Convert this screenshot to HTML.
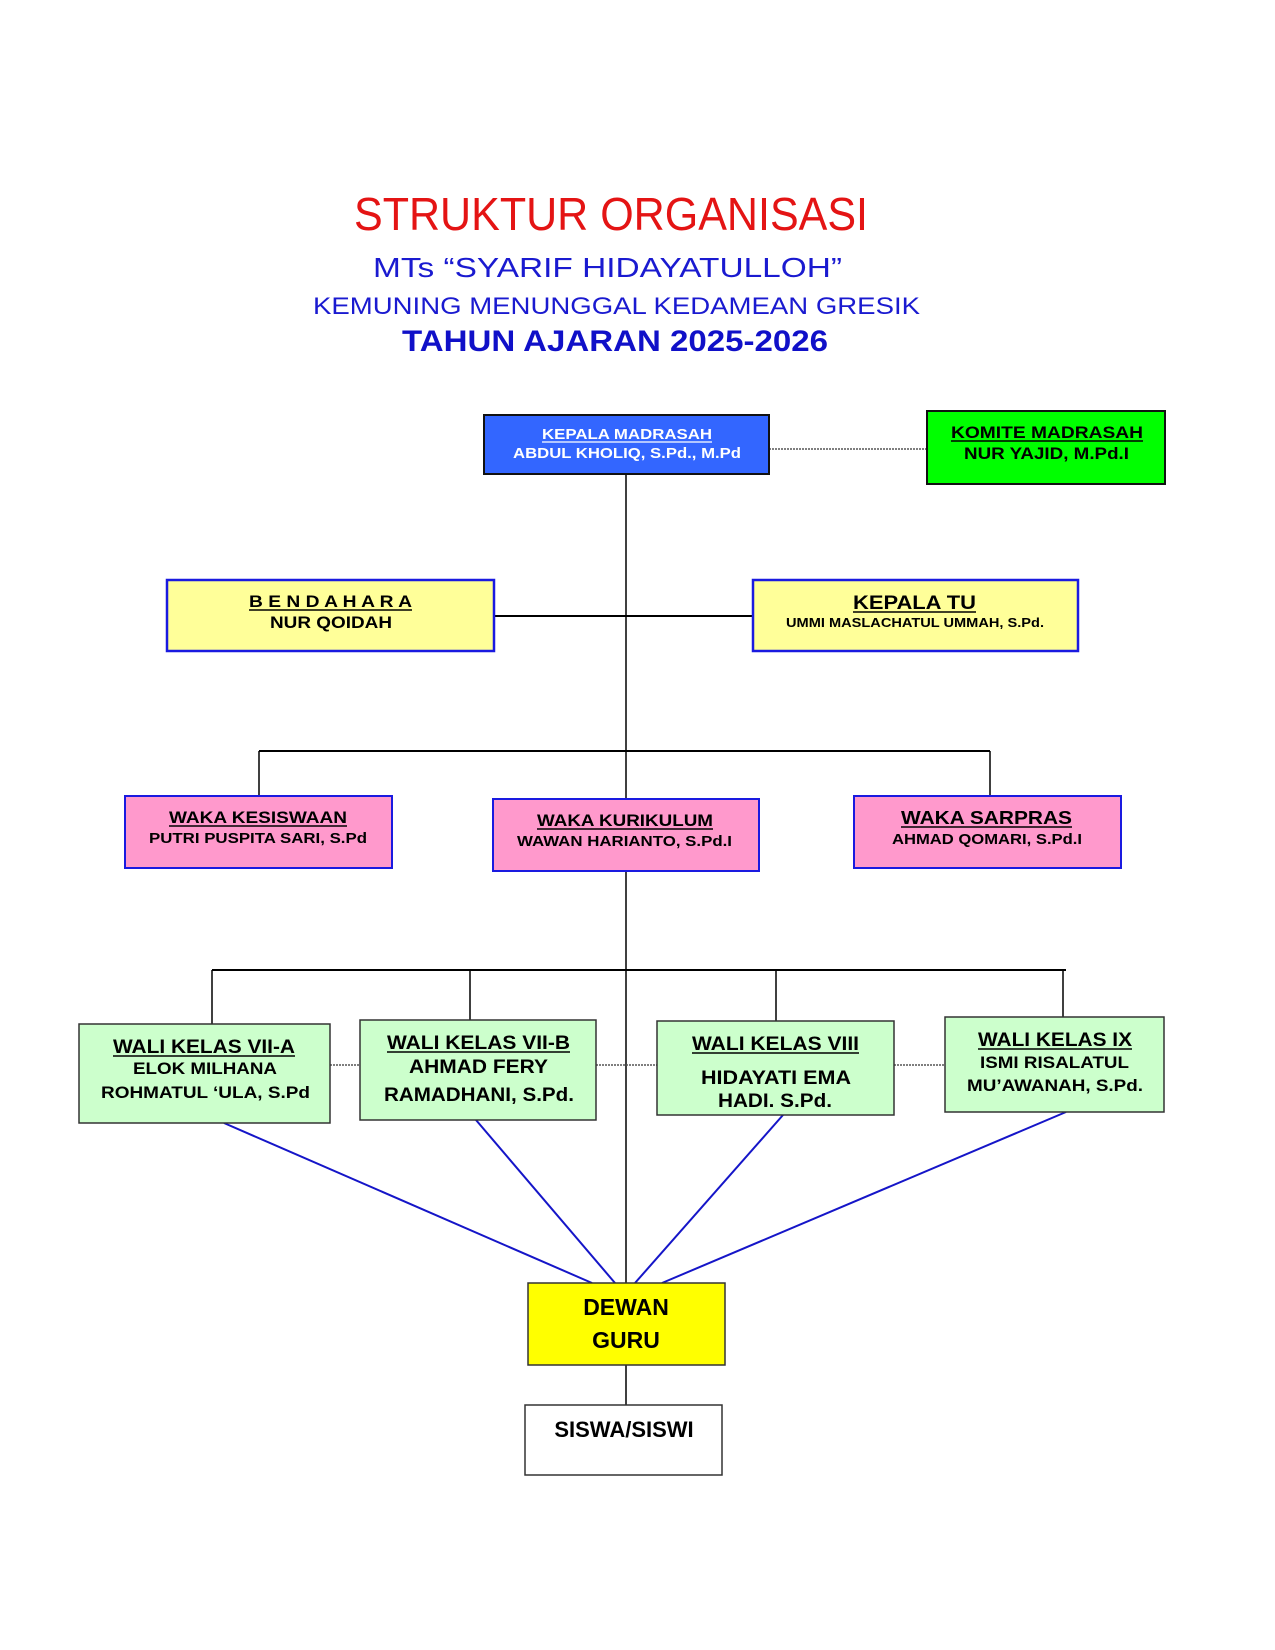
<!DOCTYPE html>
<html><head><meta charset="utf-8"><style>
html,body{margin:0;padding:0;background:#fff;}
svg{display:block;}
text{font-family:"Liberation Sans",Arial,sans-serif;}
.b{font-weight:bold;}
</style></head><body>
<svg width="1275" height="1650" viewBox="0 0 1275 1650" xmlns="http://www.w3.org/2000/svg">
<rect width="1275" height="1650" fill="#fff"/>
<text x="354" y="230" font-size="46" fill="#e41414" textLength="514" lengthAdjust="spacingAndGlyphs">STRUKTUR ORGANISASI</text>
<text x="373" y="277" font-size="28" fill="#1a1ad0" textLength="469" lengthAdjust="spacingAndGlyphs">MTs “SYARIF HIDAYATULLOH”</text>
<text x="313" y="314" font-size="24" fill="#1a1ad0" textLength="607" lengthAdjust="spacingAndGlyphs">KEMUNING MENUNGGAL KEDAMEAN GRESIK</text>
<text x="402" y="351" font-size="30" class="b" fill="#1010c8" textLength="426" lengthAdjust="spacingAndGlyphs">TAHUN AJARAN 2025-2026</text>

<g stroke="#000" stroke-width="1.5" fill="none">
<line x1="626" y1="474" x2="626" y2="1283"/>
<line x1="494" y1="616" x2="753" y2="616" stroke-width="2"/>
<line x1="259" y1="751" x2="990" y2="751" stroke-width="2"/>
<line x1="259" y1="751" x2="259" y2="796"/>
<line x1="990" y1="751" x2="990" y2="796"/>
<line x1="212" y1="970" x2="1066" y2="970" stroke-width="2"/>
<line x1="212" y1="970" x2="212" y2="1024"/>
<line x1="470" y1="970" x2="470" y2="1020"/>
<line x1="776" y1="970" x2="776" y2="1021"/>
<line x1="1063" y1="970" x2="1063" y2="1017"/>
<line x1="626" y1="1365" x2="626" y2="1405"/>
</g>
<g stroke="#555" stroke-width="1.5" stroke-dasharray="2,1" fill="none">
<line x1="769" y1="449" x2="927" y2="449"/>
<line x1="330" y1="1065" x2="360" y2="1065"/>
<line x1="596" y1="1065" x2="657" y2="1065"/>
<line x1="894" y1="1065" x2="945" y2="1065"/>
</g>
<g stroke="#1515c8" stroke-width="2" fill="none">
<line x1="224" y1="1123" x2="592" y2="1283"/>
<line x1="476" y1="1120" x2="615" y2="1283"/>
<line x1="783" y1="1115" x2="635" y2="1283"/>
<line x1="1066" y1="1112" x2="662" y2="1283"/>
</g>

<rect x="484" y="415" width="285" height="59" fill="#3366ff" stroke="#111" stroke-width="2"/>
<rect x="927" y="411" width="238" height="73" fill="#00ff00" stroke="#111" stroke-width="2"/>
<rect x="167" y="580" width="327" height="71" fill="#ffff99" stroke="#1a1ae0" stroke-width="2.5"/>
<rect x="753" y="580" width="325" height="71" fill="#ffff99" stroke="#1a1ae0" stroke-width="2.5"/>
<rect x="125" y="796" width="267" height="72" fill="#ff99cc" stroke="#1a1ae0" stroke-width="2"/>
<rect x="493" y="799" width="266" height="72" fill="#ff99cc" stroke="#1a1ae0" stroke-width="2"/>
<rect x="854" y="796" width="267" height="72" fill="#ff99cc" stroke="#1a1ae0" stroke-width="2"/>
<rect x="79" y="1024" width="251" height="99" fill="#ccffcc" stroke="#333" stroke-width="1.5"/>
<rect x="360" y="1020" width="236" height="100" fill="#ccffcc" stroke="#333" stroke-width="1.5"/>
<rect x="657" y="1021" width="237" height="94" fill="#ccffcc" stroke="#333" stroke-width="1.5"/>
<rect x="945" y="1017" width="219" height="95" fill="#ccffcc" stroke="#333" stroke-width="1.5"/>
<rect x="528" y="1283" width="197" height="82" fill="#ffff00" stroke="#333" stroke-width="1.5"/>
<rect x="525" y="1405" width="197" height="70" fill="#fff" stroke="#333" stroke-width="1.5"/>

<g class="b" fill="#fff">
<text x="542" y="439" font-size="15" textLength="170" lengthAdjust="spacingAndGlyphs">KEPALA MADRASAH</text>
<line x1="542" y1="442" x2="712" y2="442" stroke="#fff" stroke-width="1.2"/>
<text x="513" y="458" font-size="15" textLength="228" lengthAdjust="spacingAndGlyphs">ABDUL KHOLIQ, S.Pd., M.Pd</text>
</g>
<g class="b" fill="#000">
<text x="951" y="438" font-size="17" textLength="192" lengthAdjust="spacingAndGlyphs">KOMITE  MADRASAH</text>
<line x1="951" y1="441" x2="1143" y2="441" stroke="#000" stroke-width="1.5"/>
<text x="964" y="459" font-size="17" textLength="165" lengthAdjust="spacingAndGlyphs">NUR YAJID, M.Pd.I</text>

<text x="249" y="607" font-size="17" textLength="163" lengthAdjust="spacingAndGlyphs">B E N D A H A R A</text>
<line x1="249" y1="610" x2="412" y2="610" stroke="#000" stroke-width="1.5"/>
<text x="270" y="628" font-size="17" textLength="122" lengthAdjust="spacingAndGlyphs">NUR QOIDAH</text>

<text x="853" y="609" font-size="19" textLength="123" lengthAdjust="spacingAndGlyphs">KEPALA  TU</text>
<line x1="853" y1="612" x2="976" y2="612" stroke="#000" stroke-width="1.5"/>
<text x="786" y="627" font-size="13" textLength="258" lengthAdjust="spacingAndGlyphs">UMMI MASLACHATUL UMMAH, S.Pd.</text>

<text x="169" y="823" font-size="17" textLength="178" lengthAdjust="spacingAndGlyphs">WAKA KESISWAAN</text>
<line x1="169" y1="826" x2="347" y2="826" stroke="#000" stroke-width="1.5"/>
<text x="149" y="843" font-size="15" textLength="218" lengthAdjust="spacingAndGlyphs">PUTRI PUSPITA SARI, S.Pd</text>

<text x="537" y="826" font-size="17" textLength="176" lengthAdjust="spacingAndGlyphs">WAKA KURIKULUM</text>
<line x1="537" y1="829" x2="713" y2="829" stroke="#000" stroke-width="1.5"/>
<text x="517" y="846" font-size="15" textLength="215" lengthAdjust="spacingAndGlyphs">WAWAN HARIANTO, S.Pd.I</text>

<text x="901" y="824" font-size="18" textLength="171" lengthAdjust="spacingAndGlyphs">WAKA SARPRAS</text>
<line x1="901" y1="827" x2="1072" y2="827" stroke="#000" stroke-width="1.5"/>
<text x="892" y="844" font-size="15" textLength="190" lengthAdjust="spacingAndGlyphs">AHMAD QOMARI, S.Pd.I</text>

<text x="113" y="1053" font-size="19" textLength="182" lengthAdjust="spacingAndGlyphs">WALI KELAS VII-A</text>
<line x1="113" y1="1056" x2="295" y2="1056" stroke="#000" stroke-width="1.5"/>
<text x="133" y="1074" font-size="17" textLength="144" lengthAdjust="spacingAndGlyphs">ELOK MILHANA</text>
<text x="101" y="1098" font-size="17" textLength="209" lengthAdjust="spacingAndGlyphs">ROHMATUL ‘ULA, S.Pd</text>

<text x="387" y="1049" font-size="19" textLength="183" lengthAdjust="spacingAndGlyphs">WALI KELAS VII-B</text>
<line x1="387" y1="1052" x2="570" y2="1052" stroke="#000" stroke-width="1.5"/>
<text x="409" y="1073" font-size="19" textLength="139" lengthAdjust="spacingAndGlyphs">AHMAD FERY</text>
<text x="384" y="1101" font-size="19" textLength="190" lengthAdjust="spacingAndGlyphs">RAMADHANI, S.Pd.</text>

<text x="692" y="1050" font-size="19" textLength="167" lengthAdjust="spacingAndGlyphs">WALI KELAS VIII</text>
<line x1="692" y1="1053" x2="859" y2="1053" stroke="#000" stroke-width="1.5"/>
<text x="701" y="1084" font-size="19" textLength="150" lengthAdjust="spacingAndGlyphs">HIDAYATI EMA</text>
<text x="718" y="1107" font-size="19" textLength="114" lengthAdjust="spacingAndGlyphs">HADI. S.Pd.</text>

<text x="978" y="1046" font-size="19" textLength="154" lengthAdjust="spacingAndGlyphs">WALI KELAS IX</text>
<line x1="978" y1="1049" x2="1132" y2="1049" stroke="#000" stroke-width="1.5"/>
<text x="980" y="1068" font-size="17" textLength="149" lengthAdjust="spacingAndGlyphs">ISMI RISALATUL</text>
<text x="967" y="1091" font-size="17" textLength="176" lengthAdjust="spacingAndGlyphs">MU’AWANAH, S.Pd.</text>

<text x="626" y="1315" font-size="23" text-anchor="middle">DEWAN</text>
<text x="626" y="1348" font-size="23" text-anchor="middle">GURU</text>
<text x="624" y="1437" font-size="22" text-anchor="middle">SISWA/SISWI</text>
</g>
</svg>
</body></html>
